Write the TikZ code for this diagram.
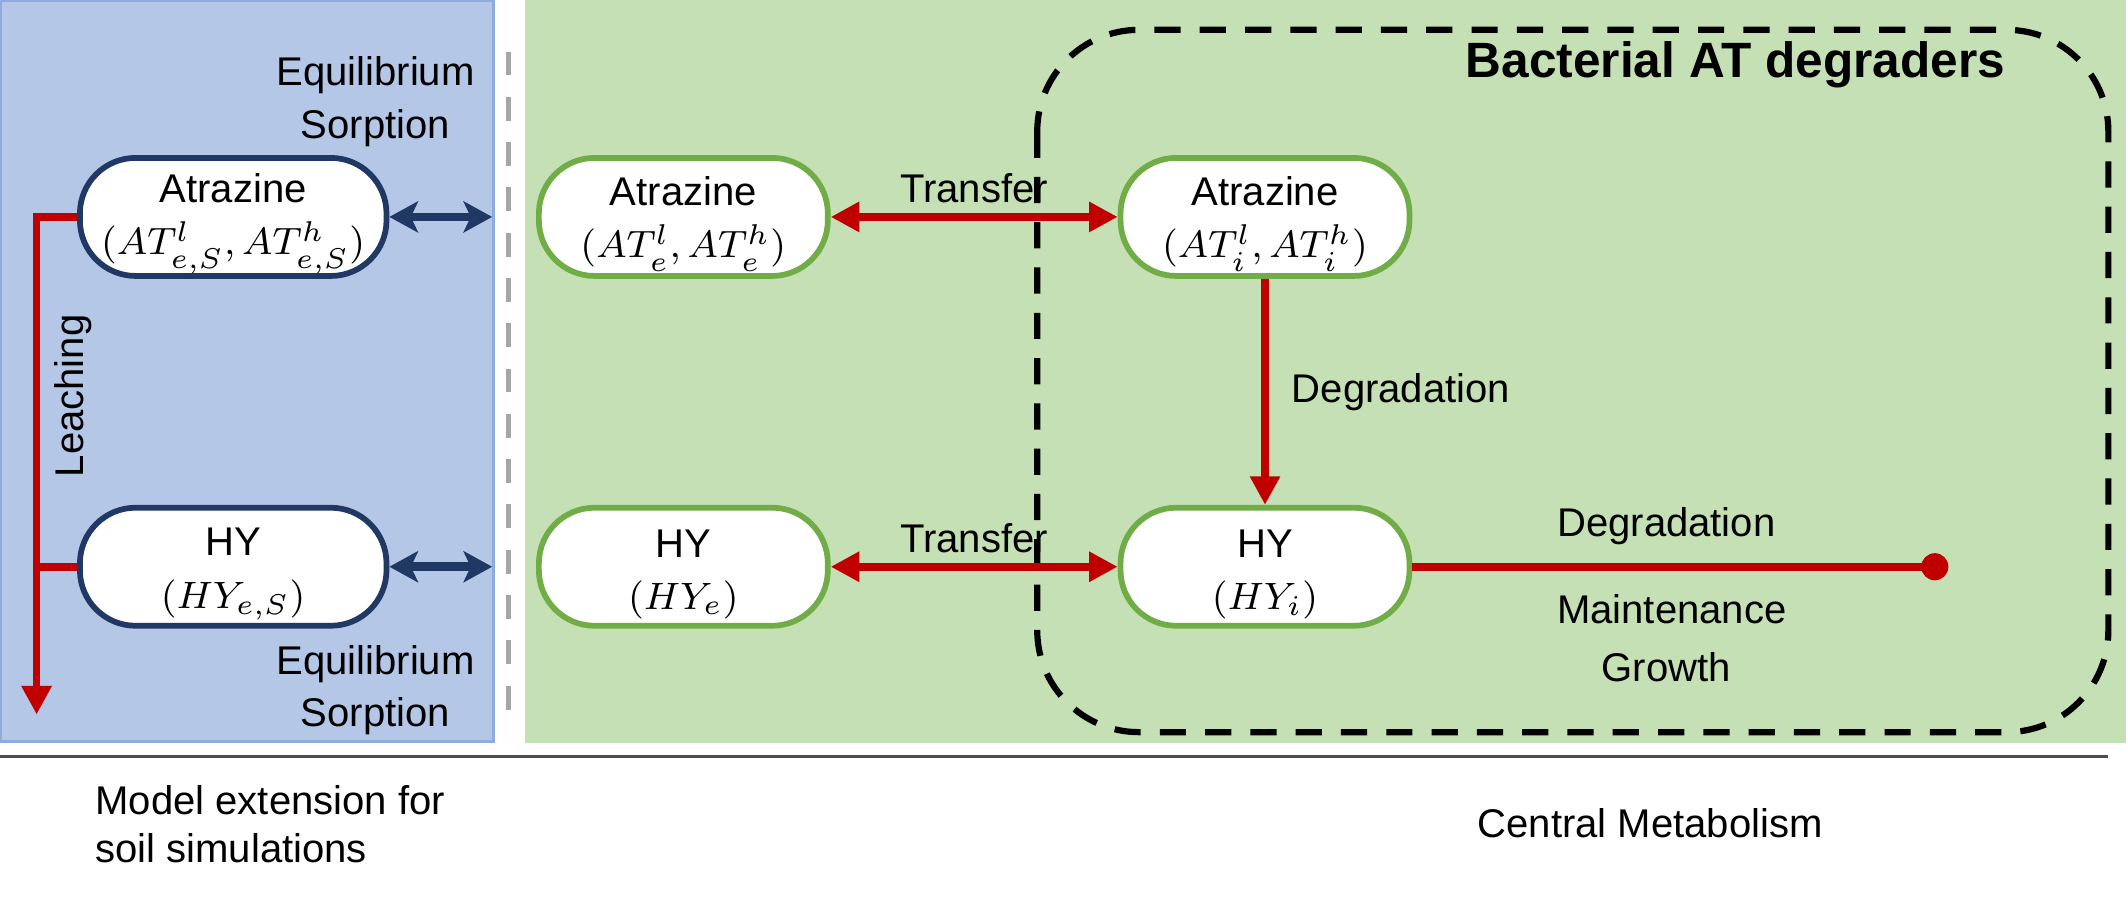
\documentclass[tikz,border=0pt]{standalone}
\usepackage{fontspec}
\setmainfont{Liberation Sans}
\usepackage{xcolor}
\usetikzlibrary{arrows.meta, calc}

\definecolor{soilblue}{HTML}{B4C7E7}
\definecolor{soiledge}{HTML}{8FAADC}
\definecolor{navy}{HTML}{203864}
\definecolor{cellgreen}{HTML}{C5E0B4}
\definecolor{poolgreen}{HTML}{70AD47}
\definecolor{fluxred}{HTML}{C00000}

\newcommand{\poolname}[1]{\rule{0pt}{9pt}#1}
\newcommand{\poolmath}[1]{{\fontsize{8}{11}\selectfont$#1$}}

\begin{document}
\begin{tikzpicture}[x=0.01cm, y=-0.01cm,
  every node/.style={font=\fontsize{8.4}{11}\selectfont, align=center},
  pool/.style={draw, fill=white, rectangle, rounded corners=0.41cm, line width=1.2pt, minimum height=0.87cm, inner sep=0pt},
  soilpool/.style={pool, draw=navy, minimum width=2.26cm},
  cellpool/.style={pool, draw=poolgreen, minimum width=2.13cm}]
\useasboundingbox (0,0) rectangle (1568,661);
\fill[soilblue, draw=soiledge, line width=0.6pt] (0.3,0.3) rectangle (364,547);
\fill[cellgreen] (387,0) rectangle (1568,548);
\draw[gray!70, line width=1.1pt, dash pattern=on 5pt off 4.5pt] (375,38) -- (375,528);
\draw[line width=1.3pt, dash pattern=on 5.5pt off 4pt, rounded corners=0.75cm] (765,22) rectangle (1555,540);
\draw[black!70, line width=0.6pt] (0,558) -- (1555,558);

\node(atS)[soilpool] at (172,160) {\poolname{Atrazine}\\\poolmath{(AT^{l}_{e,S}, AT^{h}_{e,S})}};
\node(hyS)[soilpool] at (172,418) {\poolname{HY}\\\poolmath{(HY_{e,S})}};

\node(ate)[cellpool] at (504,160) {\poolname{Atrazine}\\\poolmath{(AT^{l}_{e\vphantom{S}}, AT^{h}_{e\vphantom{S}})}};
\node(hye)[cellpool] at (504,418) {\poolname{HY}\\\poolmath{(HY_{e})}};
\node(ati)[cellpool] at (933,160) {\poolname{Atrazine}\\\poolmath{(AT^{l}_{i\vphantom{S}}, AT^{h}_{i\vphantom{S}})}};
\node(hyi)[cellpool] at (933,418) {\poolname{HY}\\\poolmath{(HY_{i})}};

\node(sink)[circle, fill=fluxred, inner sep=0pt, minimum size=0.2cm] at (1427,418) {};

\coordinate (leachtop) at (27,160);
\coordinate (leachend) at (27,527);
\coordinate (sorbtop) at (363,160);
\coordinate (sorbbot) at (363,418);

\node(eqtop) at (277,75) {Equilibrium\\Sorption};
\node(eqbot) at (277,509) {Equilibrium\\Sorption};
\node(leachlbl)[rotate=90] at (54,292) {Leaching};
\node(title)[font=\fontsize{10.4}{12}\selectfont\bfseries] at (1280,48) {Bacterial AT degraders};
\node(deglbl) at (1229,388) {Degradation};
\node(mainlbl) at (1233,449) {Maintenance};
\node(growlbl) at (1229,492) {Growth};
\node(soillbl)[anchor=west, align=left, font=\fontsize{8.4}{10.2}\selectfont] at (58,608) {Model extension for\\soil simulations};
\node(cmlbl) at (1217,607) {Central Metabolism};

\begin{scope}[line width=1.6pt, fluxred, >={Triangle[length=6pt,width=6pt]}]
\draw[->] (atS.west) -- (leachtop) -- (leachend);
\draw (hyS.west) -- (hyS.west -| leachtop);
\draw[<->] (ate.east) -- node[above=-1.2pt, black]{Transfer} (ati.west);
\draw[<->] (hye.east) -- node[above=-1.2pt, black]{Transfer} (hyi.west);
\draw[->] (ati.south) -- node[right=1.5pt, black]{Degradation} (hyi.north);
\draw (hyi.east) -- (sink.center);
\end{scope}

\begin{scope}[line width=1.8pt, navy, >={Stealth[length=6pt,width=6.5pt,inset=1.5pt]}]
\draw[<->] (atS.east) -- (sorbtop);
\draw[<->] (hyS.east) -- (sorbbot);
\end{scope}
\end{tikzpicture}
\end{document}
